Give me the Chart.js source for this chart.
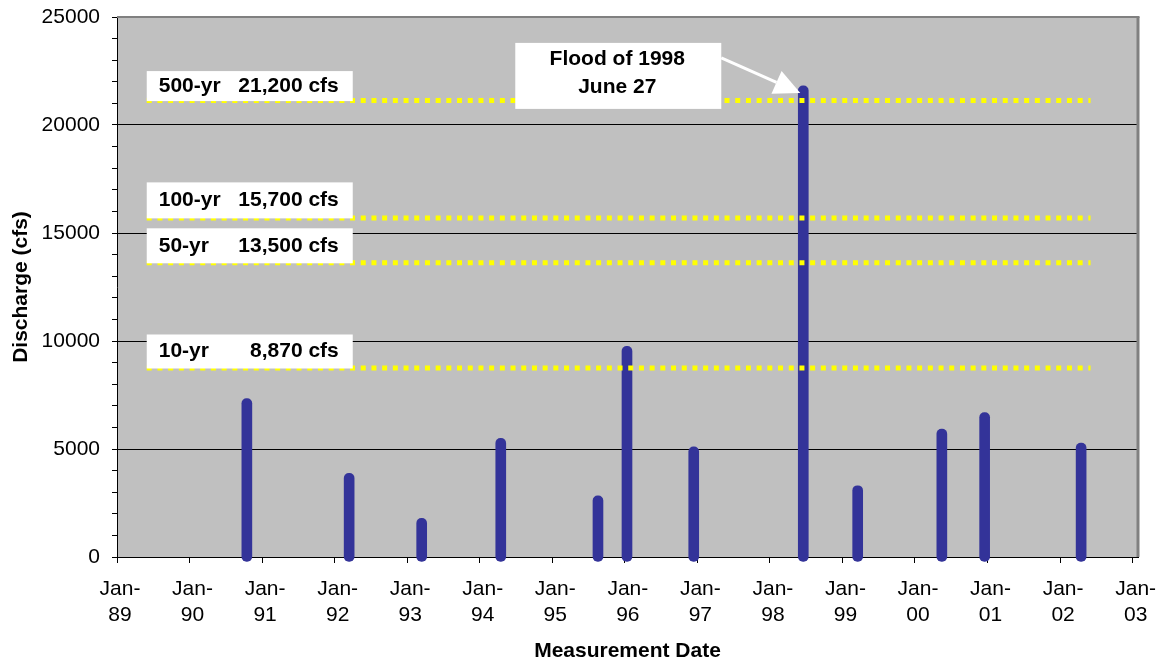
<!DOCTYPE html>
<html>
<head>
<meta charset="utf-8">
<script src="https://cdn.jsdelivr.net/npm/chart.js@4.4.0/dist/chart.umd.min.js"></script>
<style>
  body { margin: 0; background: #fff; }
  #wrap { width: 1165px; height: 661px; }
</style>
</head>
<body>
<div id="wrap"><canvas id="flowChart"></canvas></div>
<script>
// peak discharge measurements (dates as decimal years)
const measureDates = [1990.79, 1992.20, 1993.20, 1994.29, 1995.63, 1996.03, 1996.95, 1998.46, 1999.21, 2000.37, 2000.96, 2002.29];
const discharge = [7330, 3870, 1790, 5490, 2830, 9750, 5100, 21810, 3300, 5920, 6690, 5270];

// return-period flood levels
const returnLabels = ['500-yr', '100-yr', '50-yr', '10-yr'];
const returnValueText = ['21,200 cfs', '15,700 cfs', '13,500 cfs', '8,870 cfs'];
const returnLevels = [21130, 15700, 13620, 8750];
const levelStart = 1989.41;
const levelEnd = 2002.42;

// x axis ticks
const yearTicks = [1989, 1990, 1991, 1992, 1993, 1994, 1995, 1996, 1997, 1998, 1999, 2000, 2001, 2002, 2003];
const yearLabels = ['89', '90', '91', '92', '93', '94', '95', '96', '97', '98', '99', '00', '01', '02', '03'];

const floodNote = ['Flood of 1998', 'June 27'];
const floodIndex = 7;

const FONT = '"Liberation Sans", Arial, sans-serif';
Chart.defaults.font.family = FONT;
Chart.defaults.color = '#000';

const chartDecor = {
    id: 'chartDecor',
    beforeDraw(chart) {
        const { ctx, chartArea: a } = chart;
        ctx.save();
        ctx.fillStyle = '#c0c0c0';
        ctx.fillRect(a.left, a.top, a.right - a.left, a.bottom - a.top);
        ctx.restore();
    },
    afterDatasetsDraw(chart) {
        const { ctx, scales: { x, y } } = chart;
        ctx.save();

        // white label boxes sitting on the dotted lines
        const boxH = [30, 36, 35, 34];
        ctx.font = 'bold 21px ' + FONT;
        ctx.textBaseline = 'middle';
        returnLevels.forEach((lvl, i) => {
            const left = x.getPixelForValue(levelStart);
            const bottom = y.getPixelForValue(lvl) + 0.5;
            const top = bottom - boxH[i];
            const mid = top + boxH[i] / 2;
            ctx.fillStyle = '#fff';
            ctx.fillRect(left, top, 206, boxH[i]);
            ctx.fillStyle = '#000';
            ctx.textAlign = 'left';
            ctx.fillText(returnLabels[i], left + 12, mid);
            ctx.textAlign = 'right';
            ctx.fillText(returnValueText[i], left + 192, mid);
        });

        // flood note with arrow to the peak
        const tipX = x.getPixelForValue(measureDates[floodIndex]) - 3;
        const tipY = y.getPixelForValue(discharge[floodIndex]) + 7;
        const bx = tipX - 285, by = tipY - 50;
        ctx.fillStyle = '#fff';
        ctx.fillRect(bx, by, 206, 66);
        ctx.fillStyle = '#000';
        ctx.textAlign = 'center';
        ctx.fillText(floodNote[0], bx + 102, by + 16);
        ctx.fillText(floodNote[1], bx + 102, by + 44);

        const sx = bx + 206, sy = by + 15;
        const dx = tipX - sx, dy = tipY - sy;
        const len = Math.hypot(dx, dy);
        const ux = dx / len, uy = dy / len;
        const baseX = tipX - 26 * ux, baseY = tipY - 26 * uy;
        ctx.strokeStyle = '#fff';
        ctx.fillStyle = '#fff';
        ctx.lineWidth = 3;
        ctx.beginPath();
        ctx.moveTo(sx, sy);
        ctx.lineTo(baseX, baseY);
        ctx.stroke();
        ctx.beginPath();
        ctx.moveTo(tipX, tipY);
        ctx.lineTo(baseX - 12.5 * uy, baseY + 12.5 * ux);
        ctx.lineTo(baseX + 12.5 * uy, baseY - 12.5 * ux);
        ctx.closePath();
        ctx.fill();
        ctx.restore();
    },
    afterDraw(chart) {
        const { ctx, chartArea: a } = chart;
        ctx.save();
        ctx.strokeStyle = '#808080';
        ctx.lineWidth = 2;
        ctx.beginPath();
        ctx.moveTo(a.left, a.top);
        ctx.lineTo(a.right + 1.5, a.top);
        ctx.stroke();
        ctx.lineWidth = 3;
        ctx.beginPath();
        ctx.moveTo(a.right, a.top);
        ctx.lineTo(a.right, a.bottom);
        ctx.stroke();
        ctx.restore();
    }
};

const levelSets = returnLevels.map(lvl => ({
    type: 'line',
    data: [{ x: levelStart, y: lvl }, { x: levelEnd, y: lvl }],
    borderColor: '#ffff00',
    borderWidth: 5,
    borderDash: [5, 5.7],
    borderCapStyle: 'butt',
    pointRadius: 0,
    order: 0
}));

new Chart(document.getElementById('flowChart'), {
    type: 'bar',
    data: {
        datasets: [{
            type: 'bar',
            data: measureDates.map((d, i) => ({ x: d, y: discharge[i] })),
            backgroundColor: '#333399',
            barThickness: 10,
            borderRadius: 5,
            borderSkipped: false,
            base: -200,
            clip: false,
            order: 1
        }, ...levelSets]
    },
    options: {
        responsive: true,
        maintainAspectRatio: false,
        animation: false,
        layout: { padding: { top: 17, right: 27, left: 0, bottom: 0 } },
        plugins: {
            legend: { display: false },
            tooltip: { enabled: false }
        },
        scales: {
            x: {
                type: 'linear',
                min: 1989,
                max: 2003.074,
                offset: false,
                afterBuildTicks: scale => {
                    scale.ticks = yearTicks.map(v => ({ value: v }));
                },
                afterFit: scale => {
                    scale.height = 104;
                    scale.paddingLeft = 0;
                    scale.paddingRight = 0;
                },
                ticks: {
                    autoSkip: false,
                    maxRotation: 0,
                    padding: 13,
                    labelOffset: 3,
                    font: { size: 21, lineHeight: 1.25 },
                    callback: (v) => ['Jan-', yearLabels[yearTicks.indexOf(v)]]
                },
                grid: {
                    offset: false,
                    drawOnChartArea: false,
                    tickLength: 6,
                    tickColor: '#000'
                },
                border: { color: '#000', width: 1 },
                title: {
                    display: true,
                    text: 'Measurement Date',
                    font: { size: 21, weight: 'bold' },
                    padding: { top: 0, bottom: -3 }
                }
            },
            y: {
                min: 0,
                max: 25000,
                afterFit: scale => {
                    scale.width = 117;
                    scale.paddingTop = 0;
                    scale.paddingBottom = 0;
                },
                ticks: {
                    stepSize: 1000,
                    autoSkip: false,
                    padding: 12,
                    font: { size: 21 },
                    callback: v => (v % 5000 === 0 ? String(v) : '')
                },
                grid: {
                    color: c => (c.tick && c.tick.value % 5000 === 0 && c.tick.value > 0 && c.tick.value < 25000 ? '#000' : 'rgba(0,0,0,0)'),
                    tickColor: '#000',
                    tickLength: 5
                },
                border: { color: '#000', width: 1 },
                title: {
                    display: true,
                    text: 'Discharge (cfs)',
                    font: { size: 21, weight: 'bold' },
                    padding: { top: 9 }
                }
            }
        }
    },
    plugins: [chartDecor]
});
</script>
</body>
</html>
